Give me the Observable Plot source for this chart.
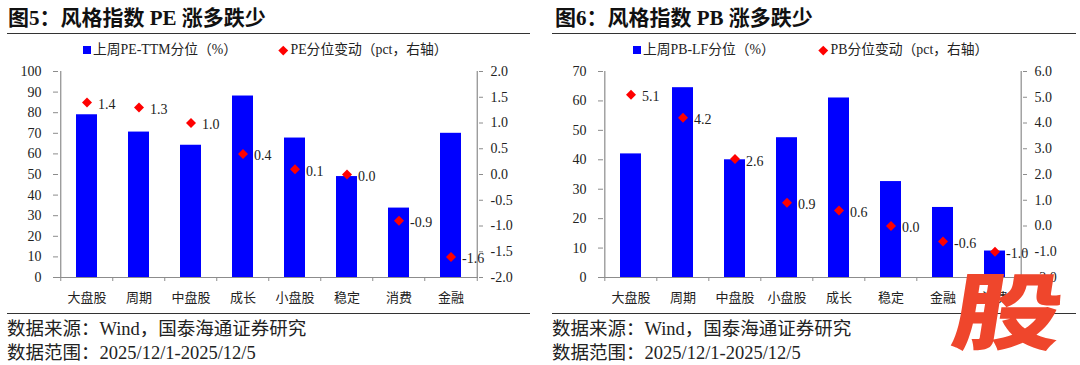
<!DOCTYPE html>
<html><head><meta charset="utf-8">
<script src="https://cdn.jsdelivr.net/npm/d3@7"></script>
<script src="https://cdn.jsdelivr.net/npm/@observablehq/plot@0.6"></script>
<style>
body{margin:0;background:#fff;}
#root{position:relative;width:1080px;height:365px;overflow:hidden;font-family:"Liberation Serif","Noto Sans CJK SC",serif;color:#222;}
.abs{position:absolute;white-space:nowrap;}
.title{font-size:21px;font-weight:bold;color:#111;line-height:24px;}
.rule{position:absolute;height:0;border-top:1.6px solid #333;}
.legend{font-size:13.8px;line-height:16px;color:#222;}
.foot{font-size:18.5px;line-height:24px;color:#222;}
.sq{position:absolute;width:8px;height:8px;background:#0000ff;}
.dm{position:absolute;width:6.5px;height:6.5px;background:#ff0000;transform:rotate(45deg);}
.plotbox{position:absolute;}
.logo{position:absolute;font-family:"Noto Sans CJK SC";font-weight:900;font-size:84px;line-height:84px;color:#ef462c;transform-origin:0 0;transform:skewX(-9deg) scaleX(1.3);}
</style></head><body><div id="root"></div>
<script>
// ---- data ----
const peCategories = ["大盘股","周期","中盘股","成长","小盘股","稳定","消费","金融"];
const pePercentile = [79.0, 70.6, 64.2, 88.1, 67.7, 49.0, 33.7, 70.0];
const peChange = [1.4, 1.3, 1.0, 0.4, 0.1, 0.0, -0.9, -1.6];
const peLeftTicks = [0,10,20,30,40,50,60,70,80,90,100];
const peRightTicks = [-2.0,-1.5,-1.0,-0.5,0.0,0.5,1.0,1.5,2.0];

const pbCategories = ["大盘股","周期","中盘股","小盘股","成长","稳定","金融","消费"];
const pbPercentile = [42.0, 64.5, 40.0, 47.5, 61.0, 32.6, 23.8, 9.0];
const pbChange = [5.1, 4.2, 2.6, 0.9, 0.6, 0.0, -0.6, -1.0];
const pbLeftTicks = [0,10,20,30,40,50,60,70];
const pbRightTicks = [-2.0,-1.0,0.0,1.0,2.0,3.0,4.0,5.0,6.0];

const root = document.getElementById("root");
function el(cls, style, html){const d=document.createElement("div");d.className=cls;Object.assign(d.style,style);if(html!=null)d.innerHTML=html;root.appendChild(d);return d;}

const diamond = {draw(ctx, size){const h=Math.sqrt(size/2);ctx.moveTo(0,-h);ctx.lineTo(h,0);ctx.lineTo(0,h);ctx.lineTo(-h,0);ctx.closePath();}};

function chart(cfg){
  const {ox, title, legA, legB, cats, bars, changes, lTicks, rTicks, ml, mr, sqX, dmX} = cfg;
  const W = 540, H = 250, mt = 11, mb = 33;
  const L0 = lTicks[0], L1 = lTicks[lTicks.length-1];
  const R0 = rTicks[0], R1 = rTicks[rTicks.length-1];
  const toLeft = v => L0 + (v - R0) / (R1 - R0) * (L1 - L0);
  const fromLeft = v => R0 + (v - L0) / (L1 - L0) * (R1 - R0);
  const data = cats.map((c,i)=>({cat:c, bar:bars[i], change:changes[i]}));
  const n = cats.length;
  const step = (W - ml - mr) / n;
  const font = "Liberation Serif, Noto Sans CJK SC, serif";
  const svg = Plot.plot({
    width: W, height: H, marginTop: mt, marginBottom: mb, marginLeft: ml, marginRight: mr,
    style: {fontFamily: font, fontSize: "14px", color: "#222", background: "transparent", overflow: "visible"},
    x: {type: "band", domain: cats, paddingInner: 0.6, paddingOuter: 0.3},
    y: {domain: [L0, L1]},
    marks: [
      Plot.barY(data, {x: "cat", y: "bar", fill: "#0000ff"}),
      Plot.ruleY([L0], {stroke: "#8c8c8c", strokeWidth: 1.2}),
      Plot.ruleX([cats[0]], {dx: -step/2, stroke: "#8c8c8c", strokeWidth: 1.2}),
      Plot.ruleX([cats[n-1]], {dx: step/2, stroke: "#8c8c8c", strokeWidth: 1.2}),
      Plot.ruleX(cats, {dx: -step/2, y1: L0, y2: L0, insetBottom: -4, stroke: "#8c8c8c"}),
      Plot.ruleX([cats[n-1]], {dx: step/2, y1: L0, y2: L0, insetBottom: -4, stroke: "#8c8c8c"}),
      Plot.axisY({ticks: lTicks, tickSize: 5, tickPadding: 12, stroke: "#8c8c8c", fill: "#222", label: null, fontSize: 14, tickFormat: d => String(d)}),
      Plot.axisY({anchor: "right", ticks: rTicks.map(toLeft), tickSize: 4, tickPadding: 8, stroke: "#8c8c8c", fill: "#222", label: null, fontSize: 14, tickFormat: d => fromLeft(d).toFixed(1)}),
      Plot.axisX({tickSize: 0, tickPadding: 15, fill: "#222", label: null, fontSize: 13}),
      Plot.dot(data, {x: "cat", y: d => toLeft(d.change), symbol: diamond, r: 4, fill: "#ff0000", stroke: "none"}),
      Plot.text(data, {x: "cat", y: d => toLeft(d.change), text: d => d.change.toFixed(1), dx: 11, dy: 2, textAnchor: "start", fontSize: 14, fill: "#222"})
    ]
  });
  const box = el("plotbox", {left: ox+"px", top: "60px", width: W+"px", height: H+"px"});
  box.appendChild(svg);
  el("abs title", {left: (ox + cfg.titleX)+"px", top: "6px"}, title);
  el("rule", {left: (ox + cfg.lineX0)+"px", width: (cfg.lineX1 - cfg.lineX0)+"px", top: "33px"});
  el("sq", {left: (ox + sqX)+"px", top: "46px"});
  el("abs legend", {left: (ox + sqX + 10)+"px", top: "42px"}, legA);
  el("dm", {left: (ox + dmX - 3.25)+"px", top: "46.8px"});
  el("abs legend", {left: (ox + dmX + 7.5)+"px", top: "42px"}, legB);
  el("rule", {left: (ox + cfg.lineX0)+"px", width: (cfg.lineX1 - cfg.lineX0)+"px", top: "313px"});
  el("abs foot", {left: (ox + cfg.lineX0)+"px", top: "317px"}, "数据来源：Wind，国泰海通证券研究");
  el("abs foot", {left: (ox + cfg.lineX0)+"px", top: "341px"}, "数据范围：2025/12/1-2025/12/5");
}

chart({ox: 0, title: "图5：风格指数 PE 涨多跌少", legA: "上周PE-TTM分位（%）", legB: "PE分位变动（pct，右轴）",
  cats: peCategories, bars: pePercentile, changes: peChange, lTicks: peLeftTicks, rTicks: peRightTicks,
  ml: 58, mr: 62, sqX: 83, dmX: 283, titleX: 8, lineX0: 7, lineX1: 530});
chart({ox: 540, title: "图6：风格指数 PB 涨多跌少", legA: "上周PB-LF分位（%）", legB: "PB分位变动（pct，右轴）",
  cats: pbCategories, bars: pbPercentile, changes: pbChange, lTicks: pbLeftTicks, rTicks: pbRightTicks,
  ml: 63, mr: 58, sqX: 93, dmX: 283, titleX: 15, lineX0: 12, lineX1: 536});

el("logo", {left: "961px", top: "265px"}, "股");
</script></body></html>
